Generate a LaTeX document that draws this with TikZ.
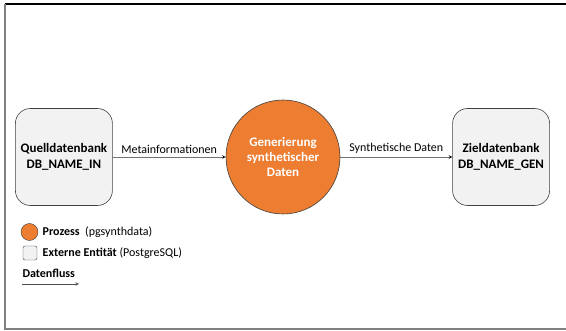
\documentclass[tikz,border=0pt]{standalone}
\usepackage{fontspec}
\setmainfont{Carlito}
\usetikzlibrary{arrows,positioning}
\definecolor{procorange}{HTML}{ED7D31}
\definecolor{entgray}{HTML}{F2F2F2}
\tikzset{entity/.style={draw=black!75,fill=entgray,rounded corners=15pt,
  minimum size=97pt,align=center,font=\fontsize{13}{15.5}\selectfont\bfseries,line width=0.6pt},
process/.style={circle,draw=black!75,fill=procorange,minimum size=114pt,
  align=center,font=\fontsize{13}{15}\selectfont\bfseries,text=white,line width=0.6pt},
flow/.style={->,draw=black!55,line width=0.6pt},
legend/.style={anchor=west,font=\fontsize{12}{14}\selectfont}
}

\begin{document}
\begin{tikzpicture}[> = stealth, x=1pt, y=-1pt, font=\fontsize{12}{14}\selectfont]
    \useasboundingbox (0,0) rectangle (566,331);
    \draw[line width=1.2pt] (5,4) -- (566,4);
    \draw[black!50,line width=1.2pt] (5,4) -- (5,329) -- (566,329);

    \node[process] (gen) at (283,157)           {Generierung\\synthetischer\\Daten};
    \node[entity]  (quelle) [left=113pt of gen]  {Quelldatenbank\\DB\_NAME\_IN};
    \node[entity]  (ziel)   [right=112pt of gen] {Zieldatenbank\\DB\_NAME\_GEN};

    \path[flow] (quelle) edge node [above] {Metainformationen} (gen)
                (gen)    edge node [above] {Synthetische Daten} (ziel);

    % Legende
    \node[circle,draw=black!75,fill=procorange,minimum size=17pt,inner sep=0pt] (lproc) at (29.5,232) {};
    \node[legend] (lproctext) [right=1pt of lproc] {\textbf{Prozess}\ \ (pgsynthdata)};
    \node[draw=black!75,fill=entgray,rounded corners=2pt,minimum size=14pt,inner sep=0pt] (lent) at (30,253) {};
    \node[legend] (lenttext) [right=2pt of lent] {\textbf{Externe Entit\"at} (PostgreSQL)};
    \node[legend,font=\fontsize{12}{14}\selectfont\bfseries] (lflow) at (19,273) {Datenfluss};
    \coordinate (fa) at (22,284);
    \coordinate (fb) at (79,284);
    \draw[flow,draw=black!70] (fa) -- (fb);
  \end{tikzpicture}
\end{document}
